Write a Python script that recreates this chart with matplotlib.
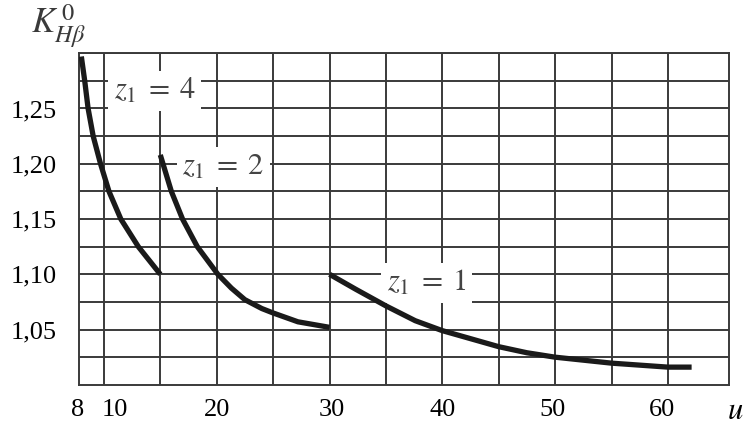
import matplotlib.pyplot as plt
import matplotlib.transforms as mtransforms
import numpy as np

plt.rcParams['font.family'] = ['Liberation Serif', 'DejaVu Serif']
plt.rcParams['mathtext.fontset'] = 'stix'

# curves K_Hb^0 (u) for z1 = 4, 2, 1
u_z4 = [8.0, 8.3, 8.6, 9.05, 9.7, 10.45, 11.5, 13.05, 15.0]
k_z4 = [1.297, 1.275, 1.250, 1.225, 1.200, 1.175, 1.150, 1.125, 1.100]

u_z2 = [15.0, 15.98, 16.97, 18.28, 20.1, 21.3, 22.5, 24.0, 25.0, 27.2, 30.0]
k_z2 = [1.208, 1.175, 1.150, 1.125, 1.100, 1.0875, 1.077, 1.069, 1.065, 1.057, 1.052]

u_z1 = [30.0, 32.3, 35.0, 37.6, 40.0, 45.0, 47.5, 50.0, 55.0, 60.0, 62.1]
k_z1 = [1.100, 1.0866, 1.0714, 1.058, 1.049, 1.0345, 1.029, 1.025, 1.0196, 1.016, 1.016]

x_ticks = [8, 10, 20, 30, 40, 50, 60]
y_ticks = [1.05, 1.10, 1.15, 1.20, 1.25]
y_ticklabels = ['1,05', '1,10', '1,15', '1,20', '1,25']

fig = plt.figure(figsize=(7.46, 4.29), dpi=100)
ax = fig.add_axes([0.106, 0.103, 0.871, 0.773])

grid_c = '#3a3a3a'
for gx in np.arange(10, 61, 5):
    ax.axvline(gx, color=grid_c, lw=1.4, zorder=1)
for gy in np.arange(1.025, 1.30, 0.025):
    ax.axhline(gy, color=grid_c, lw=1.4, zorder=1)

for u, k in [(u_z4, k_z4), (u_z2, k_z2), (u_z1, k_z1)]:
    ax.plot(u, k, color='#1a1a1a', lw=3.8, solid_capstyle='butt',
            solid_joinstyle='round', zorder=3)

box = dict(facecolor='white', edgecolor='none', pad=4)
lab_kw = dict(fontsize=22, color='#444444', ha='center', va='center',
              bbox=box, zorder=2)
ax.text(14.5, 1.266, r'$z_1\;=\;4$', **lab_kw)
ax.text(20.6, 1.197, r'$z_1\;=\;2$', **lab_kw)
ax.text(38.6, 1.092, r'$z_1\;=\;1$', **lab_kw)

ax.set_xlim(7.8, 65.4)
ax.set_ylim(1.0, 1.30)
ax.set_xticks(x_ticks)
ax.set_yticks(y_ticks)
ax.set_yticklabels(y_ticklabels)
ax.tick_params(length=0, labelsize=19)
ax.tick_params(axis='x', pad=10)
ax.tick_params(axis='y', pad=16)
for s in ax.spines.values():
    s.set_color(grid_c)
    s.set_linewidth(1.4)

# small horizontal nudges of the u labels, as printed
shifts = {8: -4, 10: 11, 20: 0, 30: 2, 40: 0, 50: -3, 60: -6}
for val, lab in zip(x_ticks, ax.get_xticklabels()):
    off = mtransforms.ScaledTranslation(shifts[val] / 100, 0, fig.dpi_scale_trans)
    lab.set_transform(lab.get_transform() + off)

fig.text(0.078, 0.94, r'$K_{H\beta}^{\,0}$', fontsize=25, color='#3a3a3a',
         ha='center', va='center')
fig.text(0.985, 0.04, '$u$', fontsize=22, ha='center', va='center')

fig.savefig('out.png', dpi=100)
